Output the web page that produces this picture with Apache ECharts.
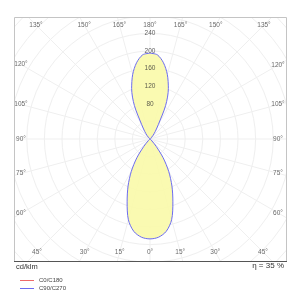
<!DOCTYPE html>
<html><head><meta charset="utf-8">
<script src="https://cdn.jsdelivr.net/npm/echarts@6/dist/echarts.min.js"></script>
<style>html,body{margin:0;padding:0;background:#fff}#c{width:300px;height:298px}</style>
</head><body><div id="c"></div>
<script>
// gamma angles (deg from nadir) and luminous intensity (cd/klm)
var gammaDeg = [0,5,10,15,20,25,30,35,40,45,50,55,60,65,70,75,80,85,90,95,100,105,110,115,120,125,130,135,140,145,150,155,160,165,170,175,180];
var intensityC0C180 = [227,224,213,190,152,118,85,52,22,6,1,0,0,0,0,0,0,0,0,0,0,0,0,0,0,0,0,4,11,21,38,84,122,152,176,192,195];
var intensityC90C270 = [227,224,213,190,152,118,85,52,22,6,1,0,0,0,0,0,0,0,0,0,0,0,0,0,0,0,0,4,11,21,38,84,122,152,176,192,195];
var radialTickLabels = [80,120,160,200,240];
var angleTickLabels = [0,15,30,45,60,75,90,105,120,135,150,165,180];
var unitLabel = 'cd/klm';
var effLabel = '\u03b7 = 35 %';
var seriesNames = ['C0/C180','C90/C270'];

var CX = 150, CY = 139, RMAX = 440, RPX = 193.6;
var FX0 = 14, FY0 = 17, FX1 = 286, FY1 = 261;
var IN = {l:21, r:278, t:25, b:252};

function toPolar(vals){
  var d = [];
  // phi measured counter-clockwise from top: left side phi=180-gamma, right side phi=180+gamma
  for (var i = gammaDeg.length-1; i >= 0; i--) d.push([vals[i], 180 - gammaDeg[i]]);
  for (var j = 1; j < gammaDeg.length; j++) d.push([vals[j], 180 + gammaDeg[j]]);
  return d;
}

var angleLabelData = [];
angleTickLabels.forEach(function(g){
  var phis = [180 - g];
  if (g !== 0 && g !== 180) phis.push(180 + g);
  phis.forEach(function(phi){
    var a = phi*Math.PI/180;
    var dx = -Math.sin(a), dy = -Math.cos(a);
    var t = Infinity;
    if (dx < -1e-9) t = Math.min(t, (CX-IN.l)/-dx);
    if (dx > 1e-9) t = Math.min(t, (IN.r-CX)/dx);
    if (dy < -1e-9) t = Math.min(t, (CY-IN.t)/-dy);
    if (dy > 1e-9) t = Math.min(t, (IN.b-CY)/dy);
    angleLabelData.push([t*RMAX/RPX, phi, g + '\u00b0']);
  });
});

var chart = echarts.init(document.getElementById('c'), null, {renderer:'canvas'});
var grid = '#efefef';
var font = "'Liberation Sans Narrow','Liberation Sans',sans-serif";
chart.setOption({
  animation:false,
  backgroundColor:'#fff',
  polar:{center:[CX,CY], radius:RPX},
  angleAxis:{type:'value', min:0, max:360, interval:15, startAngle:90, clockwise:false,
    axisLine:{show:false}, axisTick:{show:false}, axisLabel:{show:false},
    splitLine:{show:true, lineStyle:{color:grid, width:1}}},
  radiusAxis:{type:'value', min:0, max:RMAX, interval:40,
    axisLine:{show:false}, axisTick:{show:false}, axisLabel:{show:false},
    splitLine:{show:true, lineStyle:{color:grid, width:1}}},
  legend:{orient:'vertical', left:15, top:272, itemWidth:14, itemHeight:1, itemGap:1, icon:'rect', z:100,
    data:seriesNames, textStyle:{fontSize:6, lineHeight:7, color:'#444', fontFamily:font}, selectedMode:false},
  series:[
    {name:seriesNames[0], type:'line', coordinateSystem:'polar', data:toPolar(intensityC0C180), smooth:0.3,
      symbol:'none', color:'#ee6a6a', lineStyle:{color:'#ee6a6a', width:1, opacity:0},
      areaStyle:{color:'#f9f9a8', opacity:0.9}, z:3},
    {name:seriesNames[1], type:'line', coordinateSystem:'polar', data:toPolar(intensityC90C270), smooth:0.3,
      symbol:'none', color:'#6c6cf0', lineStyle:{color:'#6c6cf0', width:1}, z:4},
    {type:'scatter', coordinateSystem:'polar', data:radialTickLabels.map(function(v){return [v,0];}),
      symbolSize:1, itemStyle:{color:'rgba(0,0,0,0)'}, z:5, silent:true,
      label:{show:true, position:'inside', formatter:function(p){return p.value[0];}, fontSize:6.5, color:'#333', fontFamily:font}},
    {type:'scatter', coordinateSystem:'polar', data:angleLabelData,
      symbolSize:1, itemStyle:{color:'rgba(0,0,0,0)'}, z:5, silent:true,
      label:{show:true, position:'inside', formatter:function(p){return p.value[2];}, fontSize:6.5, color:'#444', fontFamily:font}}
  ],
  graphic:[
    {type:'rect', z:50, shape:{x:0,y:0,width:300,height:FY0}, style:{fill:'#fff'}},
    {type:'rect', z:50, shape:{x:0,y:FY1,width:300,height:298-FY1}, style:{fill:'#fff'}},
    {type:'rect', z:50, shape:{x:0,y:FY0,width:FX0,height:FY1-FY0}, style:{fill:'#fff'}},
    {type:'rect', z:50, shape:{x:FX1,y:FY0,width:300-FX1,height:FY1-FY0}, style:{fill:'#fff'}},
    {type:'rect', z:60, shape:{x:FX0+0.5,y:FY0+0.5,width:FX1-FX0,height:FY1-FY0}, style:{fill:null, stroke:'#c4c4c4', lineWidth:1}},
    {type:'line', z:61, shape:{x1:FX0,y1:FY1+0.5,x2:FX1+1,y2:FY1+0.5}, style:{stroke:'#555', lineWidth:1.2}},
    {type:'text', z:62, left:16, top:263, style:{text:unitLabel, fontSize:7.5, fill:'#333', fontFamily:"'Liberation Sans',sans-serif"}},
    {type:'text', z:62, right:16, top:262, style:{text:effLabel, fontSize:8, fill:'#333', fontFamily:"'Liberation Sans',sans-serif"}}
  ]
});
</script></body></html>
